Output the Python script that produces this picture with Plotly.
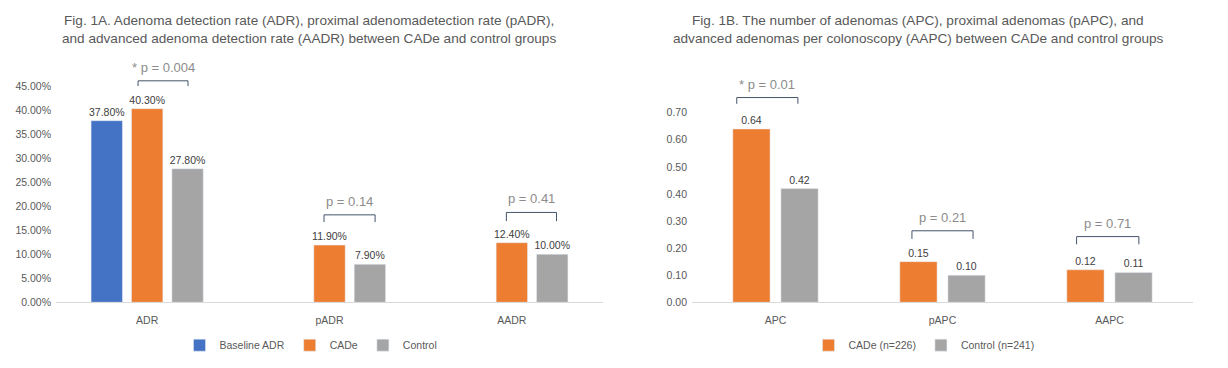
import plotly.graph_objects as go

# ---------- data ----------
cats_a = ["ADR", "pADR", "AADR"]
baseline_adr = [37.8, None, None]
cade_a = [40.3, 11.9, 12.4]
control_a = [27.8, 7.9, 10.0]
pvals_a = ["* p = 0.004", "p = 0.14", "p = 0.41"]
yticks_a = [0, 5, 10, 15, 20, 25, 30, 35, 40, 45]

cats_b = ["APC", "pAPC", "AAPC"]
cade_b = [0.64, 0.15, 0.12]
control_b = [0.42, 0.10, 0.11]
pvals_b = ["* p = 0.01", "p = 0.21", "p = 0.71"]
yticks_b = [0.0, 0.1, 0.2, 0.3, 0.4, 0.5, 0.6, 0.7]

title_a = ["Fig. 1A. Adenoma detection rate (ADR), proximal adenomadetection rate (pADR),",
           "and advanced adenoma detection rate (AADR) between CADe and control groups"]
title_b = ["Fig. 1B. The number of adenomas (APC), proximal adenomas (pAPC), and",
           "advanced adenomas per colonoscopy (AAPC) between CADe and control groups"]

BLUE = "#4472C4"
ORANGE = "#ED7D31"
GRAY = "#A5A5A5"
BRACKET = "#44546A"
FONT = "Liberation Sans, Arial, sans-serif"

# page body has an 8px margin; figure sized to fill the rest of the window
OFF = 8
W, H = 1228 - 2 * OFF, 368 - 2 * OFF


def px(x):
    return (x - OFF) / W


def py(y):
    return 1 - (y - OFF) / H


fig = go.Figure()

# ---------- left chart ----------
wa = 0.172
for name, vals, col, center in [("Baseline ADR", baseline_adr, BLUE, -0.2216),
                                ("CADe", cade_a, ORANGE, 0.0),
                                ("Control", control_a, GRAY, 0.2216)]:
    fig.add_trace(go.Bar(
        x=cats_a, y=vals, name=name, marker_color=col, width=wa, offset=center - wa / 2,
        texttemplate="%{y:.2f}%", textposition="outside", cliponaxis=False, constraintext="none",
        textfont=dict(color="#404040", size=10.5, family=FONT),
        xaxis="x", yaxis="y", legend="legend"))

# ---------- right chart ----------
wb = 0.223
for name, vals, col, center in [("CADe (n=226)", cade_b, ORANGE, -0.144),
                                ("Control (n=241)", control_b, GRAY, 0.144)]:
    fig.add_trace(go.Bar(
        x=cats_b, y=vals, name=name, marker_color=col, width=wb, offset=center - wb / 2,
        texttemplate="%{y:.2f}", textposition="outside", cliponaxis=False, constraintext="none",
        textfont=dict(color="#404040", size=10.5, family=FONT),
        xaxis="x2", yaxis="y2", legend="legend2"))

# ---------- brackets & p-values ----------
def bracket(i, x0, x1, ytop, ybot, ytext, label, xr, yr):
    fig.add_shape(type="path", xref=xr, yref=yr,
                  path=f"M {i + x0},{ybot} L {i + x0},{ytop} L {i + x1},{ytop} L {i + x1},{ybot}",
                  line=dict(color=BRACKET, width=1))
    fig.add_annotation(x=i + (x0 + x1) / 2, y=ytext, xref=xr, yref=yr, text=label,
                       xanchor="center", yanchor="middle",
                       showarrow=False, font=dict(color="#8C8C8C", size=13, family=FONT))

br_a = [(-0.05, 0.224, 46.1, 45.0, 48.9), (-0.03, 0.25, 18.2, 16.7, 20.9), (-0.03, 0.245, 18.7, 16.9, 21.7)]
for i, (x0, x1, yt, yb, ytx) in enumerate(br_a):
    bracket(i, x0, x1, yt, yb, ytx, pvals_a[i], "x", "y")

br_b = [(-0.232, 0.134, 0.756, 0.733, 0.805), (-0.183, 0.183, 0.264, 0.234, 0.314), (-0.197, 0.176, 0.2425, 0.214, 0.29)]
for i, (x0, x1, yt, yb, ytx) in enumerate(br_b):
    bracket(i, x0, x1, yt, yb, ytx, pvals_b[i], "x2", "y2")

# ---------- titles ----------
for cx, lines in [(309, title_a), (918, title_b)]:
    for ly, line in zip([21, 39], lines):
        fig.add_annotation(x=px(cx), y=py(ly), xref="paper", yref="paper", showarrow=False,
                           xanchor="center", yanchor="middle", text=line,
                           font=dict(size=13.6, color="#595959", family=FONT))

tickfont = dict(size=10.5, color="#595959", family=FONT)
ybase = 310

fig.update_layout(
    width=W, height=H,
    margin=dict(l=0, r=0, t=0, b=0),
    paper_bgcolor="white", plot_bgcolor="white",
    barmode="overlay",
    font=dict(family=FONT, color="#595959"),
    xaxis=dict(domain=[px(56), px(603)], type="category", showline=True, linecolor="#D9D9D9",
               ticks="", tickfont=tickfont, showgrid=False, range=[-0.5, 2.5], automargin=False,
               ticklabelstandoff=8),
    yaxis=dict(domain=[py(ybase), py(ybase - 50 * 4.93)], range=[0, 50], tickvals=yticks_a,
               ticktext=[f"{v:.2f}%" for v in yticks_a], showgrid=False, zeroline=False,
               tickfont=tickfont, anchor="x", ticks="", automargin=False, ticklabelstandoff=4),
    xaxis2=dict(domain=[px(692), px(1193)], type="category", showline=True, linecolor="#D9D9D9",
                ticks="", tickfont=tickfont, showgrid=False, anchor="y2", range=[-0.5, 2.5],
                automargin=False, ticklabelstandoff=8),
    yaxis2=dict(domain=[py(ybase), py(ybase - 0.82 * 277.9)], range=[0, 0.82], tickvals=yticks_b,
                ticktext=[f"{v:.2f}" for v in yticks_b], showgrid=False, zeroline=False,
                tickfont=tickfont, anchor="x2", ticks="", automargin=False, ticklabelstandoff=4),
    legend=dict(orientation="h", x=px(311), y=py(354), xanchor="center", yanchor="middle",
                font=dict(size=10.5, color="#595959", family=FONT), itemwidth=30, traceorder="normal"),
    legend2=dict(orientation="h", x=px(924), y=py(354), xanchor="center", yanchor="middle",
                 font=dict(size=10.5, color="#595959", family=FONT), itemwidth=30, traceorder="normal"),
)

fig.write_html("out.html")
